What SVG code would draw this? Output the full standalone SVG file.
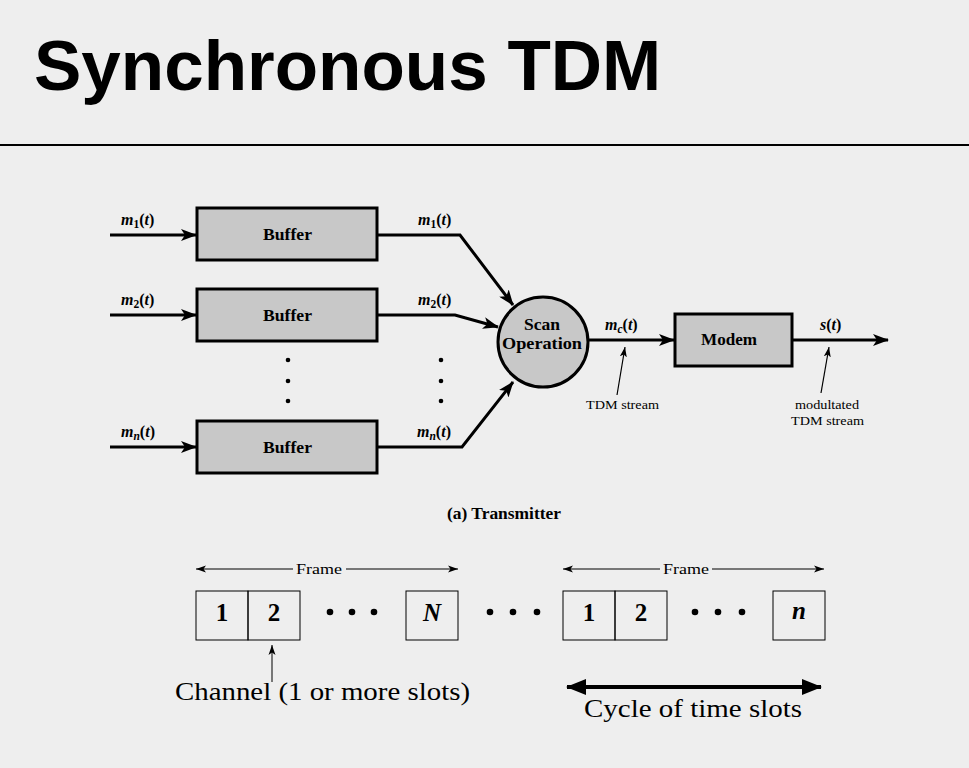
<svg xmlns="http://www.w3.org/2000/svg" width="969" height="768" viewBox="0 0 969 768">
  <defs>
    <marker id="arr" markerWidth="16" markerHeight="12" refX="15" refY="6" orient="auto" markerUnits="userSpaceOnUse">
      <path d="M0,0 L16,6 L0,12 L4,6 Z" fill="#000"/>
    </marker>
    <marker id="thin" markerWidth="10" markerHeight="8" refX="10" refY="4" orient="auto-start-reverse" markerUnits="userSpaceOnUse">
      <path d="M0,0.5 L10,4 L0,7.5 L2.5,4 Z" fill="#000"/>
    </marker>
    <marker id="thick" markerWidth="20" markerHeight="16" refX="19" refY="8" orient="auto-start-reverse" markerUnits="userSpaceOnUse">
      <path d="M0,0 L20,8 L0,16 Z" fill="#000"/>
    </marker>
  </defs>
  <style>
    .title { font-family: "Liberation Sans", Arial, sans-serif; font-weight: bold; font-size: 71px; fill: #000; }
    .blk { fill: #c8c8c8; stroke: #000; stroke-width: 3; }
    .lbl { font-family: "Liberation Serif", "Times New Roman", serif; font-weight: bold; font-size: 16.5px; fill: #000; }
    .sig { font-family: "Liberation Serif", "Times New Roman", serif; font-weight: bold; font-style: italic; font-size: 16px; fill: #000; }
    .note { font-family: "Liberation Serif", "Times New Roman", serif; font-size: 13.5px; fill: #000; }
    .wire { fill: none; stroke: #000; stroke-width: 3; }
    .slot { fill: none; stroke: #000; stroke-width: 1; }
    .num { font-family: "Liberation Serif", "Times New Roman", serif; font-weight: bold; font-size: 25px; fill: #000; text-anchor: middle; }
    .big { font-family: "Liberation Serif", "Times New Roman", serif; font-size: 26px; fill: #000; }
    .frame { font-family: "Liberation Serif", "Times New Roman", serif; font-size: 15px; fill: #000; }
  </style>

  <rect width="969" height="768" fill="#eeeeee"/>

  <text class="title" x="34" y="90">Synchronous TDM</text>
  <line x1="0" y1="145" x2="969" y2="145" stroke="#000" stroke-width="2"/>

  <!-- input buffers -->
  <g id="buffer1">
    <rect class="blk" x="197" y="208" width="180" height="52"/>
    <text class="lbl" x="263" y="240" textLength="49" lengthAdjust="spacingAndGlyphs">Buffer</text>
  </g>
  <g id="buffer2">
    <rect class="blk" x="197" y="289" width="180" height="52"/>
    <text class="lbl" x="263" y="321" textLength="49" lengthAdjust="spacingAndGlyphs">Buffer</text>
  </g>
  <g id="bufferN">
    <rect class="blk" x="197" y="421" width="180" height="52"/>
    <text class="lbl" x="263" y="453" textLength="49" lengthAdjust="spacingAndGlyphs">Buffer</text>
  </g>

  <!-- scanner and modem -->
  <g id="scan">
    <circle cx="543" cy="342" r="45" fill="#c8c8c8" stroke="#000" stroke-width="3"/>
    <text class="lbl" x="524" y="330" textLength="36" lengthAdjust="spacingAndGlyphs">Scan</text>
    <text class="lbl" x="502" y="349" textLength="80" lengthAdjust="spacingAndGlyphs">Operation</text>
  </g>
  <g id="modem">
    <rect class="blk" x="675" y="314" width="117" height="52"/>
    <text class="lbl" x="701" y="345" textLength="56" lengthAdjust="spacingAndGlyphs">Modem</text>
  </g>

  <g id="connectors">
    <line class="wire" x1="110" y1="235" x2="196" y2="235" marker-end="url(#arr)"/>
    <line class="wire" x1="110" y1="315" x2="196" y2="315" marker-end="url(#arr)"/>
    <line class="wire" x1="110" y1="447" x2="196" y2="447" marker-end="url(#arr)"/>
    <polyline class="wire" points="377,235 460,235 513,305" marker-end="url(#arr)"/>
    <polyline class="wire" points="377,315 455,315 498,327" marker-end="url(#arr)"/>
    <polyline class="wire" points="377,447 462,447 513,382" marker-end="url(#arr)"/>
    <line class="wire" x1="588" y1="340" x2="674" y2="340" marker-end="url(#arr)"/>
    <line class="wire" x1="792" y1="340" x2="888" y2="340" marker-end="url(#arr)"/>
    <line x1="617" y1="395" x2="625" y2="347" stroke="#000" stroke-width="1.2" marker-end="url(#thin)"/>
    <line x1="821" y1="393" x2="829" y2="347" stroke="#000" stroke-width="1.2" marker-end="url(#thin)"/>
  </g>

  <!-- signal labels -->
  <text class="sig" x="121" y="225">m<tspan font-size="11.5" dy="3" font-style="normal">1</tspan><tspan dy="-3" font-style="normal">(</tspan>t<tspan font-style="normal">)</tspan></text>
  <text class="sig" x="121" y="305">m<tspan font-size="11.5" dy="3" font-style="normal">2</tspan><tspan dy="-3" font-style="normal">(</tspan>t<tspan font-style="normal">)</tspan></text>
  <text class="sig" x="121" y="437">m<tspan font-size="11.5" dy="3">n</tspan><tspan dy="-3" font-style="normal">(</tspan>t<tspan font-style="normal">)</tspan></text>
  <text class="sig" x="418" y="225">m<tspan font-size="11.5" dy="3" font-style="normal">1</tspan><tspan dy="-3" font-style="normal">(</tspan>t<tspan font-style="normal">)</tspan></text>
  <text class="sig" x="418" y="305">m<tspan font-size="11.5" dy="3" font-style="normal">2</tspan><tspan dy="-3" font-style="normal">(</tspan>t<tspan font-style="normal">)</tspan></text>
  <text class="sig" x="417" y="437">m<tspan font-size="11.5" dy="3">n</tspan><tspan dy="-3" font-style="normal">(</tspan>t<tspan font-style="normal">)</tspan></text>
  <text class="sig" x="605" y="330">m<tspan font-size="11.5" dy="3">c</tspan><tspan dy="-3" font-style="normal">(</tspan>t<tspan font-style="normal">)</tspan></text>
  <text class="sig" x="820" y="330">s<tspan font-style="normal">(</tspan>t<tspan font-style="normal">)</tspan></text>

  <!-- ellipsis dots between buffers -->
  <g fill="#000">
    <circle cx="288" cy="360" r="2.3"/><circle cx="288" cy="381" r="2.3"/><circle cx="288" cy="401" r="2.3"/>
    <circle cx="441" cy="360" r="2.3"/><circle cx="441" cy="381" r="2.3"/><circle cx="441" cy="401" r="2.3"/>
  </g>

  <text class="note" x="586" y="409" textLength="73" lengthAdjust="spacingAndGlyphs">TDM stream</text>
  <text class="note" x="795" y="409" textLength="64" lengthAdjust="spacingAndGlyphs">modultated</text>
  <text class="note" x="791" y="425" textLength="73" lengthAdjust="spacingAndGlyphs">TDM stream</text>

  <text class="lbl" x="447" y="519" textLength="114" lengthAdjust="spacingAndGlyphs">(a) Transmitter</text>

  <!-- frame structure -->
  <g id="frames">
    <line x1="196" y1="569" x2="293" y2="569" stroke="#000" stroke-width="1" marker-start="url(#thin)"/>
    <line x1="346" y1="569" x2="458" y2="569" stroke="#000" stroke-width="1" marker-end="url(#thin)"/>
    <text class="frame" x="296" y="574" textLength="46" lengthAdjust="spacingAndGlyphs">Frame</text>
    <line x1="563" y1="569" x2="660" y2="569" stroke="#000" stroke-width="1" marker-start="url(#thin)"/>
    <line x1="712" y1="569" x2="824" y2="569" stroke="#000" stroke-width="1" marker-end="url(#thin)"/>
    <text class="frame" x="663" y="574" textLength="46" lengthAdjust="spacingAndGlyphs">Frame</text>

    <rect class="slot" x="196" y="591" width="52" height="49"/>
    <rect class="slot" x="248" y="591" width="52" height="49"/>
    <rect class="slot" x="406" y="591" width="52" height="49"/>
    <rect class="slot" x="563" y="591" width="52" height="49"/>
    <rect class="slot" x="615" y="591" width="52" height="49"/>
    <rect class="slot" x="773" y="591" width="52" height="49"/>
    <text class="num" x="222" y="621">1</text>
    <text class="num" x="274" y="621">2</text>
    <text class="num" x="432" y="621" font-style="italic">N</text>
    <text class="num" x="589" y="621">1</text>
    <text class="num" x="641" y="621">2</text>
    <text class="num" x="799" y="619" font-style="italic">n</text>
    <g fill="#000">
      <circle cx="330" cy="612" r="3.3"/><circle cx="352" cy="612" r="3.3"/><circle cx="374" cy="612" r="3.3"/>
      <circle cx="490" cy="612" r="3.3"/><circle cx="513" cy="612" r="3.3"/><circle cx="537" cy="612" r="3.3"/>
      <circle cx="695" cy="612" r="3.3"/><circle cx="718" cy="612" r="3.3"/><circle cx="742" cy="612" r="3.3"/>
    </g>
  </g>

  <line x1="272" y1="682" x2="272" y2="645" stroke="#000" stroke-width="1" marker-end="url(#thin)"/>
  <text class="big" x="175" y="700" textLength="295" lengthAdjust="spacingAndGlyphs">Channel (1 or more slots)</text>

  <line x1="567" y1="687" x2="821" y2="687" stroke="#000" stroke-width="4" marker-start="url(#thick)" marker-end="url(#thick)"/>
  <text class="big" x="584" y="717" textLength="218" lengthAdjust="spacingAndGlyphs">Cycle of time slots</text>
</svg>
